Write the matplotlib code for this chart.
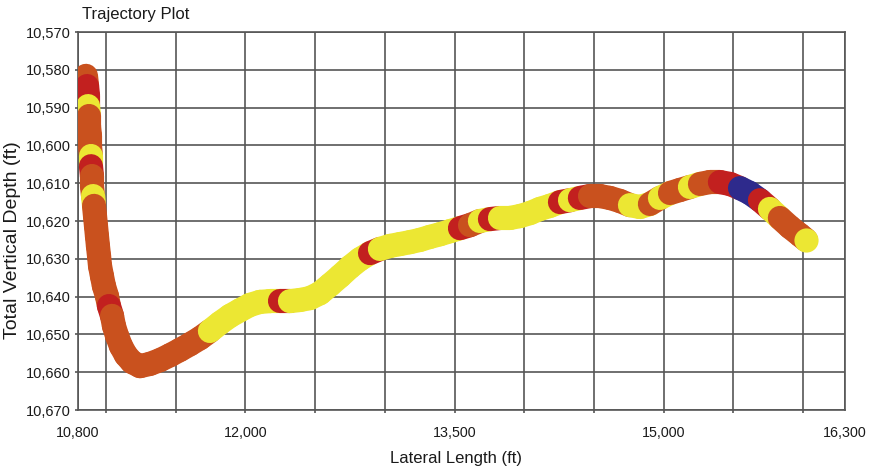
import matplotlib
matplotlib.use("Agg")
import matplotlib.pyplot as plt
from matplotlib.collections import LineCollection

plt.rcParams["font.family"] = ["Liberation Sans", "DejaVu Sans"]

# Well path: lateral length (ft) and true vertical depth (ft) along the bore
lateral_ft = [
    10857, 10865, 10872, 10872, 10879, 10879, 10886, 10886, 10893, 10893,
    10900, 10900, 10908, 10915, 10922, 10929, 10936, 10943, 10951, 10958,
    10972, 10986, 11008, 11022, 11044, 11058, 11080, 11108, 11144, 11187,
    11245, 11316, 11388, 11460, 11531, 11603, 11675, 11746, 11818, 11890,
    11962, 12033, 12105, 12177, 12248, 12320, 12392, 12463, 12535, 12607,
    12679, 12750, 12822, 12894, 12965, 13037, 13109, 13180, 13252, 13324,
    13396, 13467, 13539, 13611, 13682, 13754, 13826, 13897, 13969, 14041,
    14113, 14184, 14256, 14328, 14399, 14471, 14543, 14614, 14686, 14758,
    14830, 14901, 14973, 15045, 15116, 15188, 15260, 15331, 15403, 15475,
    15547, 15618, 15690, 15762, 15833, 15905, 15977, 16020,
]
tvd_ft = [
    10581.6, 10584.3, 10586.9, 10589.6, 10592.2, 10594.9, 10597.5, 10600.2, 10602.8, 10605.5,
    10608.1, 10610.7, 10613.4, 10616.0, 10618.7, 10621.3, 10624.0, 10626.6, 10629.3, 10631.9,
    10634.6, 10637.2, 10639.9, 10642.5, 10645.1, 10647.8, 10650.4, 10653.1, 10655.5, 10657.3,
    10658.4, 10657.8, 10656.8, 10655.5, 10654.1, 10652.6, 10651.0, 10649.1, 10647.0, 10645.1,
    10643.6, 10642.2, 10641.4, 10641.2, 10641.2, 10641.2, 10640.9, 10640.4, 10639.1, 10636.9,
    10634.6, 10632.2, 10630.1, 10628.5, 10627.4, 10626.6, 10626.1, 10625.6, 10625.0, 10624.2,
    10623.5, 10622.7, 10621.9, 10621.1, 10620.0, 10619.5, 10619.2, 10619.2, 10618.7, 10617.9,
    10616.8, 10616.0, 10615.0, 10614.5, 10613.9, 10613.4, 10613.4, 10613.9, 10614.7, 10615.8,
    10616.3, 10615.5, 10613.9, 10612.6, 10611.8, 10611.0, 10610.2, 10609.7, 10609.7, 10610.2,
    10611.3, 10612.6, 10614.5, 10616.8, 10619.2, 10621.6, 10623.7, 10625.0,
]
# Formation class at each survey point: Y, O, R, B
zone = [
    "O", "R", "R", "Y", "O", "O", "O", "O", "Y", "R",
    "O", "O", "Y", "O", "O", "O", "O", "O", "O", "O",
    "O", "O", "O", "R", "O", "O", "O", "O", "O", "O",
    "O", "O", "O", "O", "O", "O", "O", "Y", "Y", "Y",
    "Y", "Y", "Y", "Y", "R", "Y", "Y", "Y", "Y", "Y",
    "Y", "Y", "Y", "R", "Y", "Y", "Y", "Y", "Y", "Y",
    "Y", "Y", "R", "O", "Y", "R", "Y", "Y", "Y", "Y",
    "Y", "Y", "R", "Y", "R", "O", "O", "O", "O", "Y",
    "Y", "O", "Y", "O", "O", "Y", "O", "O", "R", "R",
    "B", "B", "R", "Y", "O", "O", "O", "Y",
]

x_ticks = [10800, 11000, 11500, 12000, 12500, 13000, 13500, 14000,
           14500, 15000, 15500, 16000, 16300]
x_tick_labels = ["10,800", "", "", "12,000", "", "", "13,500", "",
                 "", "15,000", "", "", "16,300"]
y_ticks = [10570, 10580, 10590, 10600, 10610, 10620, 10630,
           10640, 10650, 10660, 10670]

face = {"Y": "#ECE733", "O": "#C9511E", "R": "#C2201F", "B": "#2E2A8C"}

grid_col = "#565656"
text_col = "#1a1a1a"
tube_pt = 17.4  # tube diameter in points

fig = plt.figure(figsize=(8.76, 4.69), dpi=100)
ax = fig.add_axes([78 / 876, 1 - 410 / 469, 767 / 876, 378 / 469])

# Thick, round-capped segments between survey stations, coloured by zone
pts = list(zip(lateral_ft, tvd_ft))
segments = [[pts[i], pts[i + 1]] for i in range(len(pts) - 1)]
tube = LineCollection(segments, colors=[face[z] for z in zone[:-1]],
                      linewidths=tube_pt, capstyle="round", zorder=3)
ax.add_collection(tube)
# Final station drawn as a full disc on top
ax.scatter(lateral_ft[-1:], tvd_ft[-1:], s=tube_pt ** 2,
           c=[face[zone[-1]]], linewidths=0, zorder=4)

ax.set_xlim(10800, 16300)
ax.set_ylim(10670, 10570)

ax.set_xticks(x_ticks)
ax.set_xticklabels(x_tick_labels)
ax.set_yticks(y_ticks)
ax.set_yticklabels([f"{v:,}" for v in y_ticks])

ax.set_axisbelow(True)
ax.grid(True, color=grid_col, linewidth=1.2)
for sp in ax.spines.values():
    sp.set_color(grid_col)
    sp.set_linewidth(1.2)
    sp.set_zorder(1)

ax.tick_params(axis="x", length=2.5, width=1.2, color=grid_col,
               pad=9, labelsize=10.3, labelcolor=text_col)
ax.tick_params(axis="y", length=2, width=1.2, color=grid_col,
               pad=3, labelsize=10.5, labelcolor=text_col)
xt = ax.xaxis.get_major_ticks()
xt[0].tick1line.set_visible(False)
xt[-1].tick1line.set_visible(False)

fig.text(82 / 876, 1 - 19 / 469, "Trajectory Plot", fontsize=12,
         ha="left", va="baseline", color=text_col)
fig.text(456 / 876, 1 - 463 / 469, "Lateral Length (ft)", fontsize=12,
         ha="center", va="baseline", color=text_col)
fig.text(13 / 876, 1 - 240 / 469, "Total Vertical Depth (ft)", fontsize=14,
         ha="center", va="center", rotation=90, color=text_col)

fig.savefig("out.png", dpi=100)
